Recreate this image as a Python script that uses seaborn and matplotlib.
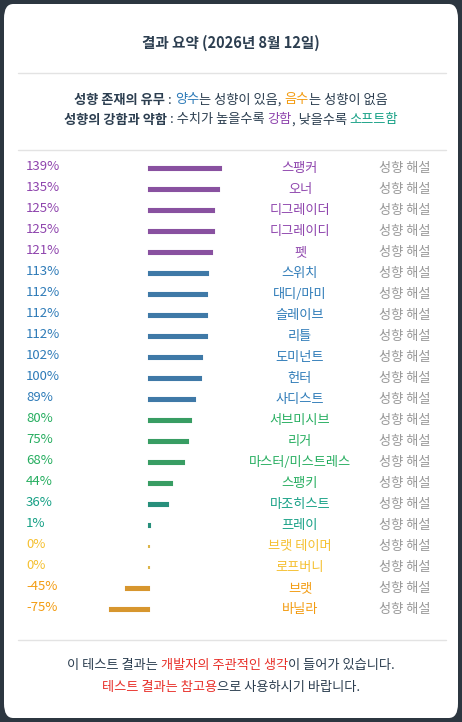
import pandas as pd
import seaborn as sns
import matplotlib.pyplot as plt
from matplotlib.patches import FancyBboxPatch

names = ["스팽커", "오너", "디그레이더", "디그레이디", "펫", "스위치", "대디/마미", "슬레이브",
         "리틀", "도미넌트", "헌터", "사디스트", "서브미시브", "리거", "마스터/미스트레스",
         "스팽키", "마조히스트", "프레이", "브랫 테이머", "로프버니", "브랫", "바닐라"]
values = [139, 135, 125, 125, 121, 113, 112, 112, 112, 102, 100, 89, 80, 75, 68, 44, 36, 1, 0, 0, -45, -75]
groups = ["p"] * 5 + ["b"] * 7 + ["g"] * 4 + ["t"] * 2 + ["y"] * 2 + ["o"] * 2

palette = {"p": "#8e44ad", "b": "#2e7bb8", "g": "#27ae60", "t": "#16a085",
           "y": "#f5c030", "o": "#f39c12"}
DARK = "#2c3e50"
RED = "#e8302a"

sns.set_theme(style="white")
plt.rcParams['font.family'] = ['Noto Sans CJK KR', 'DejaVu Sans']

W, H = 462, 722
fig = plt.figure(figsize=(W / 100, H / 100), dpi=100)
fig.patch.set_facecolor("#2c3640")
fig.patches.append(FancyBboxPatch((4 / W, 4 / H), 454 / W, 714 / H,
                                  boxstyle="round,pad=0,rounding_size=0.02",
                                  transform=fig.transFigure, facecolor="white",
                                  edgecolor="none", zorder=-5))


def fy(py):
    return 1 - py / H


def rich(parts, cy, size=9.5):
    # draw coloured pieces of text centred on one line
    r = fig.canvas.get_renderer()
    objs = []
    for txt, col, bold in parts:
        t = fig.text(0, fy(cy), txt, color=col, fontsize=size, va="center",
                     fontweight="bold" if bold else "normal")
        objs.append(t)
    widths = [o.get_window_extent(r).width for o in objs]
    x = (W - sum(widths)) / 2
    for o, w in zip(objs, widths):
        o.set_x(x / W)
        x += w


fig.text(0.5, fy(43), "결과 요약 (2026년 8월 12일)", ha="center", va="center",
         fontsize=10.5, fontweight="bold", color=DARK)
for py in [73, 150, 640]:
    fig.add_artist(plt.Line2D([18 / W, 446 / W], [fy(py), fy(py)], color="#e3e3e3", lw=1))

rich([("성향 존재의 유무", DARK, True), (" : ", DARK, False), ("양수", palette["b"], False),
      ("는 성향이 있음, ", DARK, False), ("음수", palette["o"], False),
      ("는 성향이 없음", DARK, False)], 100)
rich([("성향의 강함과 약함", DARK, True), (" : 수치가 높을수록 ", DARK, False),
      ("강함", palette["p"], False), (", 낮을수록 ", DARK, False),
      ("소프트함", palette["t"], False)], 120)
rich([("이 테스트 결과는 ", DARK, False), ("개발자의 주관적인 생각", RED, False),
      ("이 들어가 있습니다.", DARK, False)], 666)
rich([("테스트 결과는 참고용", RED, False), ("으로 사용하시기 바랍니다.", DARK, False)], 688)

# bars axes: zero at x=149px, 0.52 px per percent, rows 21 px apart
x0, x1 = 20, 440
scale = 0.52
ax = fig.add_axes([x0 / W, 1 - 620 / H, (x1 - x0) / W, 462 / H])
ax.set_zorder(2)
ax.patch.set_alpha(0)
df = pd.DataFrame({"name": names, "value": values, "group": groups})
sns.barplot(data=df, x="value", y="name", hue="group", palette=palette, dodge=False,
            orient="h", width=0.15, linewidth=1.5, legend=False, ax=ax)
for bar in ax.patches:
    bar.set_edgecolor(bar.get_facecolor())
ax.set_xlim((x0 - 149) / scale, (x1 - 149) / scale)
ax.set_ylim(len(names) - 0.5, -0.5)
ax.axis("off")

tr = ax.get_yaxis_transform()
for i, (n, v, g) in enumerate(zip(names, values, groups)):
    c = palette[g]
    ax.text((26 - x0) / (x1 - x0), i - 0.1, f"{v}%", color=c, fontsize=9.5,
            va="center", ha="left", transform=tr)
    ax.text((300 - x0) / (x1 - x0), i, n, color=c, fontsize=9.5,
            va="center", ha="center", transform=tr)
    ax.text((405 - x0) / (x1 - x0), i, "성향 해설", color="#999999", fontsize=9.5,
            va="center", ha="center", transform=tr)

fig.savefig("out.png", dpi=100, facecolor=fig.get_facecolor())
